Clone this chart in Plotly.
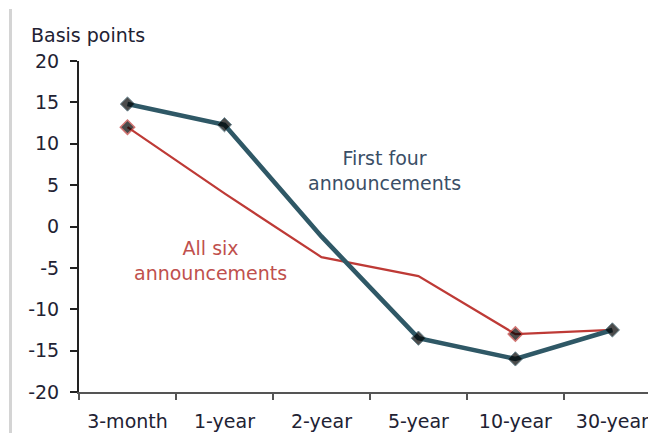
import plotly.graph_objects as go

maturities = ["3-month", "1-year", "2-year", "5-year", "10-year", "30-year"]
first_four = [14.8, 12.3, -1.2, -13.5, -16.0, -12.5]
all_six = [12.0, 4.0, -3.7, -6.0, -13.0, -12.5]
first_four_marker = [11, 11, 0, 11, 11, 11]
all_six_marker = [11, 0, 0, 0, 11, 0]
y_ticks = [20, 15, 10, 5, 0, -5, -10, -15, -20]
y_labels = [str(v) for v in y_ticks]  # plain hyphen, not unicode minus

blue = "#2F5866"
red = "#BE3A36"
font = "DejaVu Sans, Verdana, sans-serif"
fsize = 19

fig = go.Figure()
fig.add_trace(go.Scatter(
    x=maturities, y=all_six, mode="lines+markers",
    line=dict(color=red, width=2.2),
    marker=dict(symbol="diamond", size=all_six_marker, color="black",
                line=dict(color=red, width=1.5)),
    hoverinfo="skip", showlegend=False))
fig.add_trace(go.Scatter(
    x=maturities, y=first_four, mode="lines+markers",
    line=dict(color=blue, width=4.6),
    marker=dict(symbol="diamond", size=first_four_marker, color="black",
                line=dict(color=blue, width=1)),
    hoverinfo="skip", showlegend=False))

fig.add_annotation(x=2.65, y=6.8, text="First four<br>announcements", showarrow=False,
                   font=dict(size=fsize, color="#3A4E66", family=font), align="center")
fig.add_annotation(x=0.86, y=-4.1, text="All six<br>announcements", showarrow=False,
                   font=dict(size=fsize, color="#C0504D", family=font), align="center")
fig.add_annotation(xref="paper", yref="paper", x=-0.086, y=1.0785, xanchor="left",
                   yanchor="middle", text="Basis points", showarrow=False,
                   font=dict(size=fsize, color="#222233", family=font))

# gray rule down the left edge
fig.add_shape(type="line", xref="paper", yref="paper", x0=-0.1187, x1=-0.1187,
              y0=1.157, y1=-0.13, line=dict(color="#D4D4D4", width=3))

# page body has an 8px margin, so the figure is shrunk and shifted by that
fig.update_layout(
    width=648, height=425,
    margin=dict(l=71, r=0, t=53, b=41),
    plot_bgcolor="white", paper_bgcolor="white",
    font=dict(family=font, size=fsize, color="#222233"),
)
fig.update_xaxes(
    type="category", range=[-0.5, 5.45], showgrid=False, zeroline=False,
    showline=True, linecolor="#555555", linewidth=2,
    ticks="outside", tickson="boundaries", ticklen=6, tickcolor="#555555", tickwidth=2,
    ticklabelstandoff=11,
    tickfont=dict(size=fsize, color="#222233"),
)
fig.update_yaxes(
    range=[-20, 20], tickvals=y_ticks, ticktext=y_labels, showgrid=False, zeroline=False,
    showline=True, linecolor="#222222", linewidth=2,
    ticks="outside", ticklen=7, tickcolor="#222222", tickwidth=2,
    ticklabelstandoff=7,
    tickfont=dict(size=fsize, color="#222233"),
)

fig.write_html("out.html")
